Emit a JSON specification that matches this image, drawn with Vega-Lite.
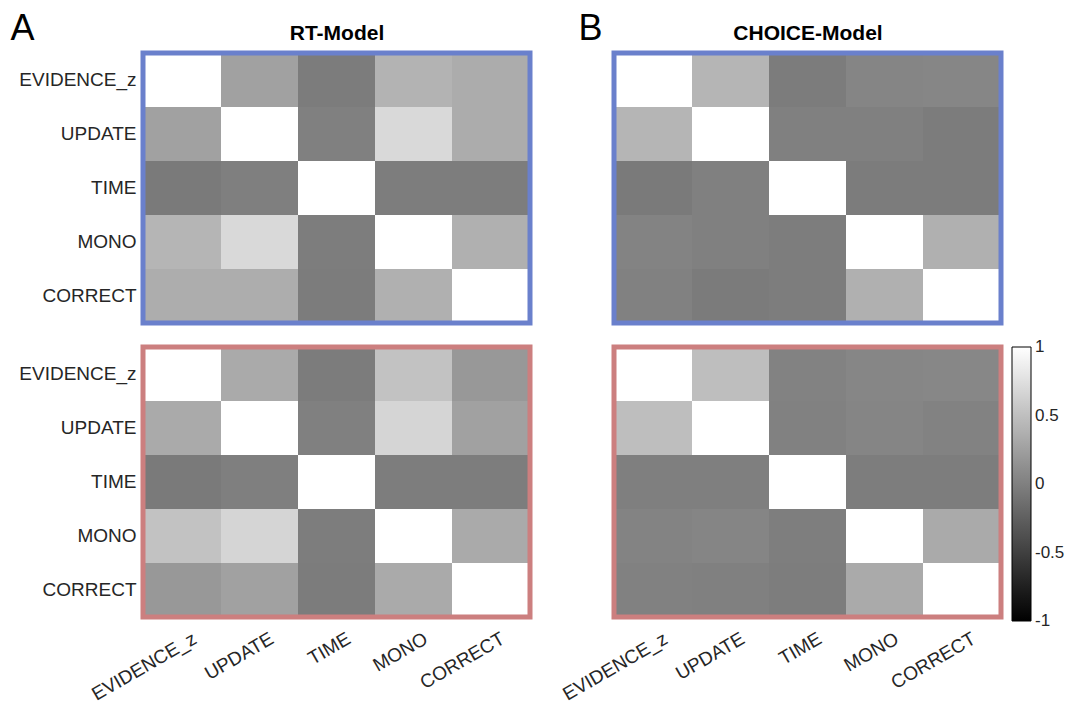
{
  "$schema": "https://vega.github.io/schema/vega-lite/v6.json",
  "background": "white",
  "padding": {"left": 10, "top": 10, "right": 10, "bottom": 10},
  "config": {
    "font": "Liberation Sans",
    "view": {"stroke": null},
    "scale": {"round": true},
    "axis": {
      "labelFont": "Liberation Sans",
      "labelFontSize": 19,
      "labelColor": "#262626",
      "ticks": false,
      "tickSize": 0,
      "domain": false,
      "grid": false,
      "titleFont": "Liberation Sans",
      "titleColor": "#000000"
    }
  },
  "data": {
    "values": [
      {"panel": "RT-1", "row": "EVIDENCE_z", "col": "EVIDENCE_z", "r": 1},
      {"panel": "RT-1", "row": "EVIDENCE_z", "col": "UPDATE", "r": 0.26},
      {"panel": "RT-1", "row": "EVIDENCE_z", "col": "TIME", "r": -0.03},
      {"panel": "RT-1", "row": "EVIDENCE_z", "col": "MONO", "r": 0.40},
      {"panel": "RT-1", "row": "EVIDENCE_z", "col": "CORRECT", "r": 0.35},
      {"panel": "RT-1", "row": "UPDATE", "col": "EVIDENCE_z", "r": 0.26},
      {"panel": "RT-1", "row": "UPDATE", "col": "UPDATE", "r": 1},
      {"panel": "RT-1", "row": "UPDATE", "col": "TIME", "r": 0.0},
      {"panel": "RT-1", "row": "UPDATE", "col": "MONO", "r": 0.70},
      {"panel": "RT-1", "row": "UPDATE", "col": "CORRECT", "r": 0.35},
      {"panel": "RT-1", "row": "TIME", "col": "EVIDENCE_z", "r": -0.04},
      {"panel": "RT-1", "row": "TIME", "col": "UPDATE", "r": -0.005},
      {"panel": "RT-1", "row": "TIME", "col": "TIME", "r": 1},
      {"panel": "RT-1", "row": "TIME", "col": "MONO", "r": -0.02},
      {"panel": "RT-1", "row": "TIME", "col": "CORRECT", "r": -0.02},
      {"panel": "RT-1", "row": "MONO", "col": "EVIDENCE_z", "r": 0.42},
      {"panel": "RT-1", "row": "MONO", "col": "UPDATE", "r": 0.70},
      {"panel": "RT-1", "row": "MONO", "col": "TIME", "r": -0.02},
      {"panel": "RT-1", "row": "MONO", "col": "MONO", "r": 1},
      {"panel": "RT-1", "row": "MONO", "col": "CORRECT", "r": 0.38},
      {"panel": "RT-1", "row": "CORRECT", "col": "EVIDENCE_z", "r": 0.36},
      {"panel": "RT-1", "row": "CORRECT", "col": "UPDATE", "r": 0.36},
      {"panel": "RT-1", "row": "CORRECT", "col": "TIME", "r": -0.03},
      {"panel": "RT-1", "row": "CORRECT", "col": "MONO", "r": 0.38},
      {"panel": "RT-1", "row": "CORRECT", "col": "CORRECT", "r": 1},

      {"panel": "CHOICE-1", "row": "EVIDENCE_z", "col": "EVIDENCE_z", "r": 1},
      {"panel": "CHOICE-1", "row": "EVIDENCE_z", "col": "UPDATE", "r": 0.42},
      {"panel": "CHOICE-1", "row": "EVIDENCE_z", "col": "TIME", "r": -0.03},
      {"panel": "CHOICE-1", "row": "EVIDENCE_z", "col": "MONO", "r": 0.04},
      {"panel": "CHOICE-1", "row": "EVIDENCE_z", "col": "CORRECT", "r": 0.05},
      {"panel": "CHOICE-1", "row": "UPDATE", "col": "EVIDENCE_z", "r": 0.42},
      {"panel": "CHOICE-1", "row": "UPDATE", "col": "UPDATE", "r": 1},
      {"panel": "CHOICE-1", "row": "UPDATE", "col": "TIME", "r": 0.0},
      {"panel": "CHOICE-1", "row": "UPDATE", "col": "MONO", "r": 0.0},
      {"panel": "CHOICE-1", "row": "UPDATE", "col": "CORRECT", "r": -0.03},
      {"panel": "CHOICE-1", "row": "TIME", "col": "EVIDENCE_z", "r": -0.04},
      {"panel": "CHOICE-1", "row": "TIME", "col": "UPDATE", "r": 0.0},
      {"panel": "CHOICE-1", "row": "TIME", "col": "TIME", "r": 1},
      {"panel": "CHOICE-1", "row": "TIME", "col": "MONO", "r": -0.03},
      {"panel": "CHOICE-1", "row": "TIME", "col": "CORRECT", "r": -0.03},
      {"panel": "CHOICE-1", "row": "MONO", "col": "EVIDENCE_z", "r": 0.03},
      {"panel": "CHOICE-1", "row": "MONO", "col": "UPDATE", "r": 0.0},
      {"panel": "CHOICE-1", "row": "MONO", "col": "TIME", "r": -0.02},
      {"panel": "CHOICE-1", "row": "MONO", "col": "MONO", "r": 1},
      {"panel": "CHOICE-1", "row": "MONO", "col": "CORRECT", "r": 0.38},
      {"panel": "CHOICE-1", "row": "CORRECT", "col": "EVIDENCE_z", "r": 0.01},
      {"panel": "CHOICE-1", "row": "CORRECT", "col": "UPDATE", "r": -0.035},
      {"panel": "CHOICE-1", "row": "CORRECT", "col": "TIME", "r": -0.02},
      {"panel": "CHOICE-1", "row": "CORRECT", "col": "MONO", "r": 0.38},
      {"panel": "CHOICE-1", "row": "CORRECT", "col": "CORRECT", "r": 1},

      {"panel": "RT-2", "row": "EVIDENCE_z", "col": "EVIDENCE_z", "r": 1},
      {"panel": "RT-2", "row": "EVIDENCE_z", "col": "UPDATE", "r": 0.33},
      {"panel": "RT-2", "row": "EVIDENCE_z", "col": "TIME", "r": -0.03},
      {"panel": "RT-2", "row": "EVIDENCE_z", "col": "MONO", "r": 0.52},
      {"panel": "RT-2", "row": "EVIDENCE_z", "col": "CORRECT", "r": 0.19},
      {"panel": "RT-2", "row": "UPDATE", "col": "EVIDENCE_z", "r": 0.33},
      {"panel": "RT-2", "row": "UPDATE", "col": "UPDATE", "r": 1},
      {"panel": "RT-2", "row": "UPDATE", "col": "TIME", "r": 0.0},
      {"panel": "RT-2", "row": "UPDATE", "col": "MONO", "r": 0.67},
      {"panel": "RT-2", "row": "UPDATE", "col": "CORRECT", "r": 0.26},
      {"panel": "RT-2", "row": "TIME", "col": "EVIDENCE_z", "r": -0.04},
      {"panel": "RT-2", "row": "TIME", "col": "UPDATE", "r": -0.005},
      {"panel": "RT-2", "row": "TIME", "col": "TIME", "r": 1},
      {"panel": "RT-2", "row": "TIME", "col": "MONO", "r": -0.02},
      {"panel": "RT-2", "row": "TIME", "col": "CORRECT", "r": -0.02},
      {"panel": "RT-2", "row": "MONO", "col": "EVIDENCE_z", "r": 0.52},
      {"panel": "RT-2", "row": "MONO", "col": "UPDATE", "r": 0.67},
      {"panel": "RT-2", "row": "MONO", "col": "TIME", "r": -0.02},
      {"panel": "RT-2", "row": "MONO", "col": "MONO", "r": 1},
      {"panel": "RT-2", "row": "MONO", "col": "CORRECT", "r": 0.33},
      {"panel": "RT-2", "row": "CORRECT", "col": "EVIDENCE_z", "r": 0.19},
      {"panel": "RT-2", "row": "CORRECT", "col": "UPDATE", "r": 0.26},
      {"panel": "RT-2", "row": "CORRECT", "col": "TIME", "r": -0.03},
      {"panel": "RT-2", "row": "CORRECT", "col": "MONO", "r": 0.33},
      {"panel": "RT-2", "row": "CORRECT", "col": "CORRECT", "r": 1},

      {"panel": "CHOICE-2", "row": "EVIDENCE_z", "col": "EVIDENCE_z", "r": 1},
      {"panel": "CHOICE-2", "row": "EVIDENCE_z", "col": "UPDATE", "r": 0.49},
      {"panel": "CHOICE-2", "row": "EVIDENCE_z", "col": "TIME", "r": 0.02},
      {"panel": "CHOICE-2", "row": "EVIDENCE_z", "col": "MONO", "r": 0.05},
      {"panel": "CHOICE-2", "row": "EVIDENCE_z", "col": "CORRECT", "r": 0.06},
      {"panel": "CHOICE-2", "row": "UPDATE", "col": "EVIDENCE_z", "r": 0.49},
      {"panel": "CHOICE-2", "row": "UPDATE", "col": "UPDATE", "r": 1},
      {"panel": "CHOICE-2", "row": "UPDATE", "col": "TIME", "r": 0.01},
      {"panel": "CHOICE-2", "row": "UPDATE", "col": "MONO", "r": 0.04},
      {"panel": "CHOICE-2", "row": "UPDATE", "col": "CORRECT", "r": 0.02},
      {"panel": "CHOICE-2", "row": "TIME", "col": "EVIDENCE_z", "r": -0.005},
      {"panel": "CHOICE-2", "row": "TIME", "col": "UPDATE", "r": -0.005},
      {"panel": "CHOICE-2", "row": "TIME", "col": "TIME", "r": 1},
      {"panel": "CHOICE-2", "row": "TIME", "col": "MONO", "r": -0.02},
      {"panel": "CHOICE-2", "row": "TIME", "col": "CORRECT", "r": -0.02},
      {"panel": "CHOICE-2", "row": "MONO", "col": "EVIDENCE_z", "r": 0.03},
      {"panel": "CHOICE-2", "row": "MONO", "col": "UPDATE", "r": 0.04},
      {"panel": "CHOICE-2", "row": "MONO", "col": "TIME", "r": -0.01},
      {"panel": "CHOICE-2", "row": "MONO", "col": "MONO", "r": 1},
      {"panel": "CHOICE-2", "row": "MONO", "col": "CORRECT", "r": 0.33},
      {"panel": "CHOICE-2", "row": "CORRECT", "col": "EVIDENCE_z", "r": 0.01},
      {"panel": "CHOICE-2", "row": "CORRECT", "col": "UPDATE", "r": 0.0},
      {"panel": "CHOICE-2", "row": "CORRECT", "col": "TIME", "r": -0.02},
      {"panel": "CHOICE-2", "row": "CORRECT", "col": "MONO", "r": 0.33},
      {"panel": "CHOICE-2", "row": "CORRECT", "col": "CORRECT", "r": 1}
    ]
  },
  "columns": 2,
  "bounds": "flush",
  "spacing": {"row": 24, "column": 84},
  "resolve": {
    "scale": {"color": "independent", "x": "independent", "y": "independent"},
    "legend": {"color": "independent"}
  },
  "concat": [
    {
      "width": 387,
      "height": 270,
      "layer": [
        {
          "transform": [{"filter": {"field": "panel", "equal": "RT-1"}}],
          "mark": {"type": "rect"},
          "encoding": {
            "x": {
              "field": "col", "type": "nominal", "sort": ["EVIDENCE_z", "UPDATE", "TIME", "MONO", "CORRECT"],
              "axis": {
                "orient": "top", "labels": false,
                "title": "RT-Model", "titleFontSize": 21, "titleFontWeight": "bold",
                "titleY": -14, "titleBaseline": "alphabetic"
              }
            },
            "y": {
              "field": "row", "type": "nominal", "sort": ["EVIDENCE_z", "UPDATE", "TIME", "MONO", "CORRECT"],
              "axis": {
                "labelPadding": 7,
                "title": "A", "titleAngle": 0, "titleX": -133, "titleY": -14,
                "titleAlign": "left", "titleBaseline": "alphabetic",
                "titleFontSize": 36, "titleFontWeight": "normal"
              }
            },
            "color": {"field": "r", "type": "quantitative", "scale": {"domain": [-1, 1], "range": ["#000000", "#ffffff"], "interpolate": "rgb"}, "legend": null}
          }
        },
        {
          "data": {"values": [{}]},
          "mark": {"type": "rect", "filled": false, "stroke": "#6A80CC", "strokeWidth": 5},
          "encoding": {}
        }
      ]
    },
    {
      "width": 387,
      "height": 270,
      "layer": [
        {
          "transform": [{"filter": {"field": "panel", "equal": "CHOICE-1"}}],
          "mark": {"type": "rect"},
          "encoding": {
            "x": {
              "field": "col", "type": "nominal", "sort": ["EVIDENCE_z", "UPDATE", "TIME", "MONO", "CORRECT"],
              "axis": {
                "orient": "top", "labels": false,
                "title": "CHOICE-Model", "titleFontSize": 21, "titleFontWeight": "bold",
                "titleY": -14, "titleBaseline": "alphabetic"
              }
            },
            "y": {
              "field": "row", "type": "nominal", "sort": ["EVIDENCE_z", "UPDATE", "TIME", "MONO", "CORRECT"],
              "axis": {
                "labels": false,
                "title": "B", "titleAngle": 0, "titleX": -36, "titleY": -14,
                "titleAlign": "left", "titleBaseline": "alphabetic",
                "titleFontSize": 36, "titleFontWeight": "normal"
              }
            },
            "color": {"field": "r", "type": "quantitative", "scale": {"domain": [-1, 1], "range": ["#000000", "#ffffff"], "interpolate": "rgb"}, "legend": null}
          }
        },
        {
          "data": {"values": [{}]},
          "mark": {"type": "rect", "filled": false, "stroke": "#6A80CC", "strokeWidth": 5},
          "encoding": {}
        }
      ]
    },
    {
      "width": 387,
      "height": 270,
      "layer": [
        {
          "transform": [{"filter": {"field": "panel", "equal": "RT-2"}}],
          "mark": {"type": "rect"},
          "encoding": {
            "x": {
              "field": "col", "type": "nominal", "sort": ["EVIDENCE_z", "UPDATE", "TIME", "MONO", "CORRECT"],
              "axis": {"title": null, "labelAngle": -30, "labelAlign": "right", "labelBaseline": "top", "labelPadding": 12, "labelOffset": 8}
            },
            "y": {
              "field": "row", "type": "nominal", "sort": ["EVIDENCE_z", "UPDATE", "TIME", "MONO", "CORRECT"],
              "axis": {"title": null, "labelPadding": 7}
            },
            "color": {"field": "r", "type": "quantitative", "scale": {"domain": [-1, 1], "range": ["#000000", "#ffffff"], "interpolate": "rgb"}, "legend": null}
          }
        },
        {
          "data": {"values": [{}]},
          "mark": {"type": "rect", "filled": false, "stroke": "#CC7F7F", "strokeWidth": 5},
          "encoding": {}
        }
      ]
    },
    {
      "width": 387,
      "height": 270,
      "layer": [
        {
          "transform": [{"filter": {"field": "panel", "equal": "CHOICE-2"}}],
          "mark": {"type": "rect"},
          "encoding": {
            "x": {
              "field": "col", "type": "nominal", "sort": ["EVIDENCE_z", "UPDATE", "TIME", "MONO", "CORRECT"],
              "axis": {"title": null, "labelAngle": -30, "labelAlign": "right", "labelBaseline": "top", "labelPadding": 12, "labelOffset": 8}
            },
            "y": {
              "field": "row", "type": "nominal", "sort": ["EVIDENCE_z", "UPDATE", "TIME", "MONO", "CORRECT"],
              "axis": null
            },
            "color": {
              "field": "r", "type": "quantitative",
              "scale": {"domain": [-1, 1], "range": ["#000000", "#ffffff"], "interpolate": "rgb"},
              "legend": {
                "type": "gradient",
                "title": null,
                "orient": "right",
                "direction": "vertical",
                "offset": 11,
                "padding": 0,
                "gradientLength": 274,
                "gradientThickness": 19,
                "gradientStrokeColor": "#000000",
                "gradientStrokeWidth": 1,
                "values": [-1, -0.5, 0, 0.5, 1],
                "labelExpr": "toString(datum.value)",
                "labelFont": "Liberation Sans",
                "labelFontSize": 17,
                "labelColor": "#262626",
                "labelOffset": 4,
                "labelOverlap": false,
                "encode": {
                  "labels": {
                    "update": {"baseline": {"value": "middle"}}
                  }
                }
              }
            }
          }
        },
        {
          "data": {"values": [{}]},
          "mark": {"type": "rect", "filled": false, "stroke": "#CC7F7F", "strokeWidth": 5},
          "encoding": {}
        }
      ]
    }
  ]
}
